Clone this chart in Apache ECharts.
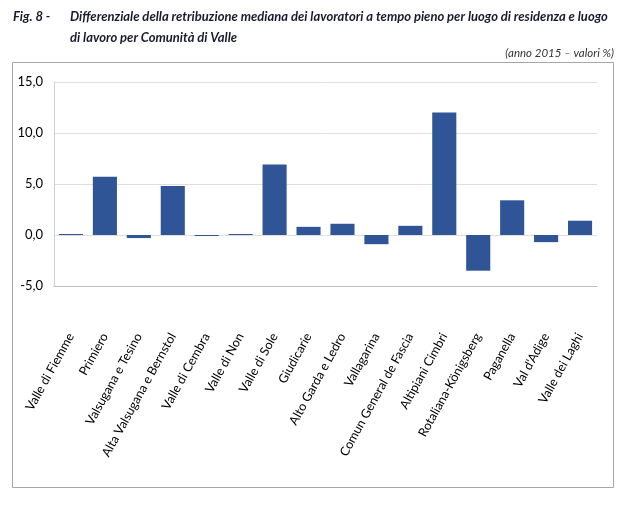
<!DOCTYPE html>
<html>
<head>
<meta charset="utf-8">
<script src="https://cdn.jsdelivr.net/npm/echarts@6/dist/echarts.min.js"></script>
<style>
  html, body { margin: 0; padding: 0; background: #fff; }
  #main { width: 641px; height: 517px; }
</style>
</head>
<body>
<div id="main"></div>
<script>
// Comunità di Valle
var categories = ['Valle di Fiemme', 'Primiero', 'Valsugana e Tesino', 'Alta Valsugana e Bernstol',
  'Valle di Cembra', 'Valle di Non', 'Valle di Sole', 'Giudicarie', 'Alto Garda e Ledro',
  'Vallagarina', 'Comun General de Fascia', 'Altipiani Cimbri', 'Rotaliana-Königsberg',
  'Paganella', "Val d'Adige", 'Valle dei Laghi'];
// differenziale %
var values = [0.1, 5.7, -0.3, 4.8, -0.1, 0.1, 6.9, 0.8, 1.1, -0.9, 0.9, 12.0, -3.5, 3.4, -0.7, 1.4];

var font = 'Lato, "Open Sans", sans-serif';
var titleStyle = { fontFamily: font, fontSize: 13, fontWeight: 'bold', fontStyle: 'italic', fill: '#1a1a2e' };
var chart = echarts.init(document.getElementById('main'));

var option = {
  animation: false,
  textStyle: { fontFamily: font },
  graphic: [
    { type: 'text', left: 13, top: 10, style: Object.assign({ text: 'Fig. 8 -' }, titleStyle) },
    { type: 'text', left: 70, top: 10, style: Object.assign({ text: 'Differenziale della retribuzione mediana dei lavoratori a tempo pieno per luogo di residenza e luogo' }, titleStyle) },
    { type: 'text', left: 70, top: 31, style: Object.assign({ text: 'di lavoro per Comunità di Valle' }, titleStyle) },
    { type: 'text', right: 27, top: 47, style: { text: '(anno 2015 – valori %)', fontFamily: font, fontSize: 11.5, fontStyle: 'italic', fill: '#333' } },
    {
      type: 'rect',
      shape: { x: 12.5, y: 62.5, width: 601, height: 425 },
      style: { fill: 'none', stroke: '#a6a6a6', lineWidth: 1 },
      silent: true
    }
  ],
  grid: { left: 54, right: 44, top: 82, bottom: 231 },
  xAxis: [{
    type: 'category',
    data: categories,
    axisLine: { show: false },
    axisTick: { show: false },
    axisLabel: {
      interval: 0, rotate: 61, margin: 48,
      fontFamily: font, fontSize: 12.5, color: '#000'
    }
  }, {
    // only the line at zero
    type: 'category',
    data: categories,
    position: 'bottom',
    axisLine: { show: true, onZero: true, lineStyle: { color: '#bfbfbf' } },
    axisTick: { show: false },
    axisLabel: { show: false }
  }],
  yAxis: {
    type: 'value',
    min: -5, max: 15, interval: 5,
    axisLine: { show: true, lineStyle: { color: '#d0d0d0' } },
    axisTick: { show: false },
    splitLine: { lineStyle: { color: '#dedede' } },
    axisLabel: {
      margin: 11, fontFamily: font, fontSize: 13, color: '#000',
      formatter: function (v) { return v.toFixed(1).replace('.', ','); }
    }
  },
  series: [{
    type: 'bar',
    data: values,
    barCategoryGap: '29%',
    itemStyle: { color: '#2f5597' }
  }]
};
chart.setOption(option);
</script>
</body>
</html>
